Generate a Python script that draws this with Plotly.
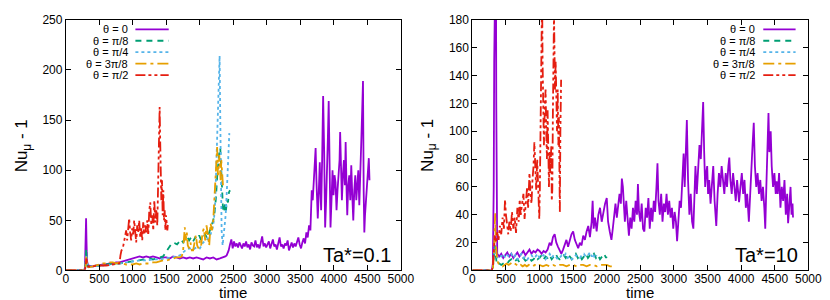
import plotly.graph_objects as go

# ---- data: (time, Nu_mu - 1) ----
# Ta* = 0.1 panel
A_TH0 = [(0, 0), (260, 0), (285, 2), (295, 30), (302, 52), (308, 30), (315, 10), (330, 5), (400, 4), (450, 5),
         (500, 5), (550, 6), (600, 6), (650, 7), (700, 7), (750, 8), (800, 8), (850, 9), (900, 10), (950, 11),
         (1000, 12), (1050, 13), (1100, 14), (1150, 13), (1200, 14), (1250, 13), (1300, 14), (1350, 13),
         (1400, 12), (1450, 13), (1500, 13), (1550, 12), (1600, 14), (1650, 13), (1700, 12), (1750, 13),
         (1800, 12), (1850, 13), (1900, 12), (1950, 13), (2000, 12), (2050, 11), (2100, 13), (2150, 12),
         (2200, 13), (2250, 11), (2300, 12), (2350, 13), (2380, 14), (2400, 15), (2430, 20), (2450, 26),
         (2470, 31), (2490, 22), (2510, 29), (2530, 24), (2550, 27), (2570, 23), (2590, 28), (2610, 25),
         (2630, 22), (2650, 27), (2670, 24), (2690, 29), (2710, 23), (2730, 26), (2750, 21), (2770, 28),
         (2790, 25), (2810, 24), (2830, 30), (2850, 23), (2870, 26), (2890, 22), (2910, 28), (2930, 34),
         (2950, 24), (2970, 27), (2990, 23), (3010, 26), (3030, 29), (3050, 22), (3070, 27), (3090, 31),
         (3110, 24), (3130, 26), (3150, 21), (3170, 28), (3190, 33), (3210, 24), (3230, 26), (3250, 22),
         (3270, 27), (3290, 25), (3310, 30), (3330, 20), (3350, 25), (3370, 28), (3390, 23), (3410, 27),
         (3430, 24), (3450, 30), (3470, 33), (3490, 26), (3510, 22), (3530, 28), (3550, 32), (3570, 27),
         (3590, 38), (3610, 33), (3630, 45), (3650, 40), (3660, 62), (3670, 80), (3685, 70), (3700, 85),
         (3715, 100), (3728, 122), (3740, 90), (3750, 60), (3760, 52), (3775, 78), (3790, 108), (3800, 80),
         (3810, 60), (3825, 110), (3840, 174), (3855, 120), (3870, 43), (3885, 70), (3900, 100), (3910, 130),
         (3923, 169), (3935, 110), (3950, 43), (3965, 70), (3980, 100), (3995, 75), (4010, 95), (4025, 88),
         (4040, 60), (4055, 80), (4070, 95), (4085, 110), (4094, 138), (4105, 90), (4120, 70), (4135, 95),
         (4150, 110), (4165, 85), (4176, 128), (4190, 80), (4200, 55), (4215, 85), (4230, 95), (4245, 70),
         (4260, 105), (4275, 75), (4290, 50), (4305, 80), (4320, 95), (4335, 70), (4350, 90), (4365, 100),
         (4380, 65), (4395, 110), (4410, 130), (4423, 160), (4435, 189), (4445, 80), (4455, 38), (4465, 55),
         (4480, 70), (4495, 95), (4510, 105), (4522, 112), (4532, 90)]
A_TH1 = [(0, 0), (270, 0), (290, 3), (300, 15), (305, 22), (312, 10), (325, 4), (400, 4), (500, 5), (600, 6),
         (700, 7), (800, 7), (900, 8), (1000, 9), (1050, 10), (1100, 10), (1150, 11), (1200, 11), (1250, 12),
         (1300, 11), (1350, 12), (1400, 13), (1450, 14), (1480, 17), (1510, 20), (1540, 22), (1570, 26),
         (1600, 25), (1630, 27), (1660, 26), (1690, 29), (1720, 31), (1750, 28), (1780, 32), (1810, 34),
         (1840, 30), (1870, 33), (1900, 29), (1930, 33), (1960, 31), (1990, 35), (2020, 30), (2050, 33),
         (2080, 36), (2110, 32), (2140, 38), (2170, 42), (2200, 50), (2220, 58), (2240, 72), (2260, 95),
         (2275, 110), (2290, 118), (2305, 122), (2315, 105), (2325, 90), (2335, 75), (2345, 62), (2360, 58),
         (2375, 66), (2390, 60), (2405, 70), (2420, 68), (2435, 78), (2450, 80)]
A_TH2 = [(0, 0), (270, 0), (290, 3), (300, 12), (306, 16), (315, 8), (330, 4), (400, 4), (500, 5), (600, 5),
         (700, 6), (800, 7), (900, 8), (1000, 9), (1100, 10), (1200, 10), (1300, 11), (1400, 11), (1500, 12),
         (1600, 13), (1650, 14), (1700, 15), (1750, 18), (1800, 21), (1850, 22), (1900, 21), (1950, 23),
         (2000, 22), (2050, 28), (2100, 30), (2130, 33), (2160, 36), (2190, 42), (2210, 50), (2230, 70),
         (2250, 110), (2265, 150), (2280, 190), (2295, 214), (2305, 150), (2315, 80), (2325, 40), (2340, 25),
         (2355, 35), (2370, 45), (2385, 55), (2400, 75), (2415, 100), (2428, 125), (2440, 137)]
A_TH3 = [(0, 0), (270, 0), (290, 2), (300, 8), (306, 14), (315, 6), (330, 3), (400, 4), (450, 5), (500, 6),
         (550, 7), (600, 7), (650, 8), (700, 8), (750, 7), (800, 8), (850, 7), (900, 6), (950, 6), (1000, 6),
         (1050, 7), (1100, 6), (1150, 7), (1200, 7), (1250, 7), (1300, 8), (1350, 8), (1400, 9), (1450, 10),
         (1500, 10), (1550, 11), (1600, 12), (1650, 13), (1700, 13), (1730, 14), (1750, 20), (1765, 35),
         (1775, 43), (1790, 30), (1805, 38), (1820, 25), (1840, 22), (1860, 28), (1880, 20), (1900, 20),
         (1920, 28), (1940, 35), (1960, 25), (1980, 22), (2000, 30), (2020, 25), (2040, 38), (2060, 42),
         (2080, 30), (2100, 45), (2120, 35), (2140, 25), (2160, 47), (2180, 40), (2200, 50), (2215, 70),
         (2230, 95), (2245, 115), (2258, 123), (2270, 95), (2280, 100), (2290, 115), (2300, 105), (2310, 90),
         (2320, 110), (2330, 100), (2345, 85)]
A_TH4 = [(0, 0), (270, 0), (290, 2), (300, 6), (308, 12), (315, 6), (330, 4), (400, 4), (500, 5), (600, 5),
         (700, 6), (750, 6), (800, 7), (815, 15), (830, 20), (850, 22), (870, 28), (890, 35), (900, 40),
         (915, 30), (930, 45), (945, 52), (960, 38), (975, 30), (990, 42), (1005, 36), (1020, 50), (1035, 40),
         (1050, 28), (1065, 45), (1080, 38), (1095, 50), (1110, 33), (1125, 42), (1140, 30), (1155, 48),
         (1170, 36), (1185, 45), (1200, 38), (1215, 50), (1230, 35), (1245, 60), (1260, 68), (1275, 45),
         (1290, 55), (1305, 40), (1320, 70), (1335, 48), (1350, 60), (1365, 45), (1375, 80), (1385, 120),
         (1393, 150), (1400, 163), (1408, 130), (1416, 95), (1425, 70), (1435, 90), (1445, 55), (1455, 80),
         (1465, 50), (1475, 60), (1485, 40), (1495, 55), (1505, 45), (1515, 40), (1525, 48)]

# Ta* = 10 panel
B_TH0 = [(0, 0), (290, 0), (305, 5), (318, 60), (325, 150), (330, 250), (350, 250), (356, 120), (362, 30),
         (370, 12), (400, 10), (430, 12), (460, 9), (490, 11), (520, 13), (550, 10), (580, 12), (610, 9),
         (640, 11), (670, 13), (700, 10), (730, 12), (760, 14), (790, 11), (820, 13), (850, 15), (880, 12),
         (910, 14), (940, 13), (970, 15), (1000, 14), (1030, 12), (1060, 14), (1090, 13), (1120, 15),
         (1150, 20), (1175, 18), (1200, 24), (1225, 26), (1250, 20), (1275, 17), (1300, 14), (1325, 12),
         (1350, 15), (1375, 19), (1400, 22), (1425, 17), (1450, 21), (1475, 26), (1500, 28), (1525, 22),
         (1550, 19), (1575, 16), (1600, 20), (1625, 18), (1650, 25), (1675, 22), (1700, 28), (1725, 32),
         (1750, 24), (1775, 35), (1790, 50), (1805, 30), (1825, 38), (1850, 28), (1875, 40), (1900, 45),
         (1925, 35), (1950, 42), (1975, 48), (2000, 52), (2020, 35), (2045, 28), (2070, 22), (2090, 30),
         (2110, 40), (2130, 48), (2150, 38), (2170, 45), (2190, 55), (2210, 48), (2225, 66), (2240, 60),
         (2255, 45), (2270, 35), (2290, 50), (2310, 40), (2330, 25), (2350, 38), (2370, 30), (2390, 45),
         (2410, 35), (2430, 50), (2450, 40), (2464, 62), (2480, 42), (2500, 35), (2520, 48), (2540, 30),
         (2560, 28), (2580, 45), (2600, 38), (2620, 52), (2640, 30), (2660, 45), (2680, 35), (2700, 50),
         (2720, 42), (2740, 60), (2755, 77), (2770, 50), (2790, 40), (2810, 55), (2830, 35), (2850, 48),
         (2870, 42), (2890, 55), (2910, 40), (2930, 50), (2950, 38), (2970, 45), (2990, 30), (3010, 42),
         (3030, 35), (3047, 21), (3065, 40), (3085, 50), (3105, 45), (3120, 60), (3135, 75), (3144, 84),
         (3160, 60), (3175, 80), (3192, 108), (3210, 65), (3230, 40), (3250, 55), (3270, 35), (3289, 30),
         (3305, 60), (3320, 75), (3340, 55), (3360, 70), (3380, 90), (3400, 80), (3420, 100), (3435, 121),
         (3450, 85), (3465, 60), (3480, 70), (3495, 75), (3508, 55), (3525, 65), (3545, 48), (3565, 60),
         (3585, 75), (3605, 50), (3620, 35), (3630, 32), (3650, 55), (3670, 70), (3690, 60), (3710, 75),
         (3730, 65), (3750, 55), (3770, 70), (3790, 60), (3810, 75), (3824, 81), (3840, 65), (3860, 55),
         (3880, 70), (3900, 60), (3920, 50), (3940, 65), (3969, 49), (3990, 60), (4010, 70), (4030, 55),
         (4050, 65), (4070, 45), (4090, 55), (4115, 35), (4135, 60), (4155, 75), (4170, 90), (4188, 106),
         (4205, 75), (4225, 60), (4245, 70), (4265, 55), (4285, 65), (4305, 50), (4325, 60), (4345, 45),
         (4359, 30), (4375, 60), (4390, 90), (4407, 113), (4420, 85), (4440, 100), (4455, 75), (4475, 60),
         (4495, 70), (4515, 55), (4528, 64), (4545, 55), (4565, 70), (4585, 45), (4605, 60), (4625, 50),
         (4645, 65), (4665, 40), (4685, 55), (4699, 34), (4715, 45), (4735, 60), (4750, 40), (4765, 48),
         (4772, 38)]
B_TH1 = [(0, 0), (290, 0), (305, 2), (320, 8), (335, 18), (345, 12), (360, 6), (380, 4), (400, 5), (430, 4),
         (460, 5), (490, 6), (520, 5), (550, 7), (580, 8), (610, 6), (640, 7), (670, 8), (700, 6), (730, 7),
         (760, 9), (790, 7), (820, 8), (850, 9), (880, 7), (910, 8), (940, 10), (970, 8), (1000, 9), (1030, 11),
         (1060, 8), (1090, 10), (1120, 9), (1150, 11), (1180, 8), (1210, 10), (1240, 12), (1270, 9), (1300, 8),
         (1330, 10), (1360, 11), (1390, 9), (1420, 12), (1450, 10), (1480, 8), (1510, 10), (1540, 12),
         (1570, 9), (1600, 11), (1630, 8), (1660, 10), (1690, 12), (1720, 9), (1750, 11), (1780, 10),
         (1810, 12), (1840, 9), (1870, 11), (1900, 8), (1930, 10), (1960, 12), (1990, 9), (2000, 10)]
B_TH2 = [(0, 0), (290, 0), (305, 2), (320, 8), (335, 15), (350, 12), (370, 9), (400, 11), (430, 10), (460, 12),
         (490, 9), (520, 11), (550, 10), (580, 12), (610, 9), (640, 11), (670, 8), (700, 10), (730, 12),
         (760, 9), (790, 10), (820, 8), (850, 10), (880, 11), (910, 9), (940, 10), (970, 12), (1000, 9),
         (1030, 10), (1060, 11), (1090, 8), (1120, 10), (1150, 12), (1180, 9), (1210, 11), (1240, 10),
         (1270, 8), (1300, 9), (1330, 11), (1360, 10), (1390, 12), (1420, 9), (1450, 10), (1480, 8), (1510, 9),
         (1540, 11), (1570, 10), (1600, 9), (1630, 11), (1660, 12), (1690, 10), (1720, 11), (1750, 13),
         (1780, 10), (1800, 12), (1820, 9), (1850, 11)]
B_TH3 = [(0, 0), (290, 0), (305, 2), (320, 10), (332, 30), (340, 41), (348, 20), (358, 10), (370, 7), (390, 5),
         (420, 4), (450, 3), (480, 4), (510, 5), (540, 4), (570, 5), (600, 6), (630, 5), (660, 4), (690, 3),
         (720, 4), (750, 3), (780, 4), (810, 3), (840, 4), (870, 3), (900, 3), (930, 4), (960, 3), (1000, 4),
         (1050, 3), (1100, 4), (1150, 3), (1200, 4), (1250, 3), (1300, 4), (1350, 4), (1400, 3), (1450, 4),
         (1500, 4), (1550, 3), (1600, 4), (1650, 4), (1700, 3), (1750, 4), (1800, 4), (1850, 3), (1900, 4),
         (1950, 4), (2000, 4), (2050, 3), (2100, 3)]
B_TH4 = [(0, 0), (290, 0), (305, 3), (320, 12), (335, 25), (350, 20), (370, 28), (390, 22), (410, 32), (430, 26),
         (450, 38), (470, 30), (486, 51), (500, 40), (515, 32), (534, 26), (550, 35), (570, 28), (590, 42),
         (610, 30), (630, 38), (650, 27), (670, 45), (690, 35), (705, 51), (720, 40), (740, 48), (760, 55),
         (777, 37), (795, 50), (815, 60), (830, 45), (850, 70), (865, 55), (880, 48), (895, 65), (910, 75),
         (923, 92), (935, 70), (950, 58), (965, 80), (980, 60), (996, 37), (1005, 60), (1012, 100), (1020, 140),
         (1030, 180), (1038, 200), (1045, 150), (1055, 120), (1065, 90), (1078, 117), (1090, 130), (1100, 100),
         (1110, 80), (1120, 115), (1130, 95), (1140, 60), (1150, 85), (1160, 70), (1166, 78), (1175, 90),
         (1182, 50), (1190, 58), (1198, 110), (1206, 150), (1215, 185), (1222, 160), (1230, 130), (1240, 150),
         (1250, 120), (1260, 100), (1270, 130), (1280, 90), (1288, 110), (1296, 70), (1302, 42), (1310, 100),
         (1321, 137)]

LABELS = ["θ = 0", "θ = π/8", "θ = π/4", "θ = 3π/8", "θ = π/2"]
COLORS = ["#9400d3", "#009e73", "#56b4e9", "#e69f00", "#e51e10"]
DASHES = ["solid", "6px,5px", "3px,3px", "11px,4px,3px,4px", "10px,3px,3px,3px,3px,3px"]

W, H = 830, 300
FONT = "Liberation Sans, Arial, sans-serif"

fig = go.Figure()

panels = [([A_TH0, A_TH1, A_TH2, A_TH3, A_TH4], "x", "y"),
          ([B_TH0, B_TH1, B_TH2, B_TH3, B_TH4], "x2", "y2")]
for series, xa, ya in panels:
    for pts, col, dash, lab in zip(series, COLORS, DASHES, LABELS):
        fig.add_trace(go.Scatter(
            x=[p[0] for p in pts], y=[p[1] for p in pts], mode="lines",
            line=dict(color=col, width=1.8, dash=dash), name=lab,
            xaxis=xa, yaxis=ya, showlegend=False))

axis_common = dict(showline=True, linecolor="black", linewidth=1, mirror="allticks",
                   ticks="inside", ticklen=5, tickcolor="black", showgrid=False, zeroline=False,
                   ticklabeloverflow="allow",
                   tickfont=dict(family=FONT, size=12, color="black"))
x_common = dict(range=[0, 5000], dtick=500, ticklabelstandoff=-3, **axis_common)

fig.update_layout(
    width=W, height=H, margin=dict(l=0, r=0, t=0, b=0),
    plot_bgcolor="white", paper_bgcolor="white", showlegend=False,
    xaxis=dict(domain=[56 / W, 398 / W], anchor="y", **x_common),
    yaxis=dict(domain=[32 / H, 295 / H], range=[0, 250], dtick=50, anchor="x", **axis_common),
    xaxis2=dict(domain=[471 / W, 814 / W], anchor="y2", **x_common),
    yaxis2=dict(domain=[32 / H, 295 / H], range=[0, 180], dtick=20, anchor="x2", **axis_common),
)

ann = []
shapes = []
# axis titles and panel labels
for x0, x1, ytx, tag in [(56, 398, 12, "Ta*=0.1"), (471, 814, 426, "Ta*=10")]:
    ann.append(dict(x=(x0 + x1) / 2 / W, y=1 - 291 / H, xref="paper", yref="paper", text="time",
                    xanchor="center", yanchor="middle", showarrow=False,
                    font=dict(family=FONT, size=15, color="black")))
    ann.append(dict(x=ytx / W, y=1 - 137 / H, xref="paper", yref="paper", text="Nu<sub>μ</sub> - 1",
                    textangle=-90, xanchor="center", yanchor="middle", showarrow=False,
                    font=dict(family=FONT, size=17, color="black")))
    ann.append(dict(x=(x1 - 8) / W, y=1 - 252 / H, xref="paper", yref="paper", text=tag,
                    xanchor="right", yanchor="middle", showarrow=False,
                    font=dict(family=FONT, size=20, color="black")))

# hand-built key: label right-aligned, sample line on its right
key_rows = [15, 27, 39, 51, 63]
for text_right, s0, s1 in [(121, 127, 161), (762, 768, 801)]:
    for row, lab, col, dash in zip(key_rows, LABELS, COLORS, DASHES):
        ann.append(dict(x=text_right / W, y=1 - row / H, xref="paper", yref="paper", text=lab,
                        xanchor="right", yanchor="middle", showarrow=False,
                        font=dict(family=FONT, size=11, color="black")))
        shapes.append(dict(type="line", xref="paper", yref="paper", x0=s0 / W, x1=s1 / W,
                           y0=1 - row / H, y1=1 - row / H, line=dict(color=col, width=1.8, dash=dash)))

fig.update_layout(annotations=ann, shapes=shapes)
fig.write_html("out.html")
